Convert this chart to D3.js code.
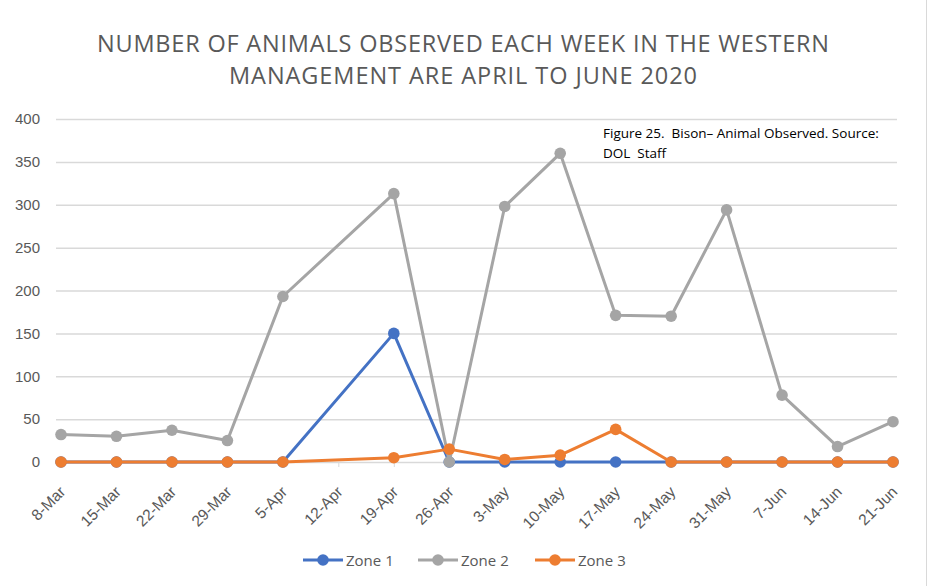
<!DOCTYPE html>
<html>
<head>
<meta charset="utf-8">
<script src="https://cdn.jsdelivr.net/npm/d3@7/dist/d3.min.js"></script>
<style>
  body { margin: 0; background: #fff; }
  svg { display: block; font-family: "Open Sans", "Noto Sans", sans-serif; }
</style>
</head>
<body>
<svg id="chart" width="932" height="586"></svg>
<script>
// week labels (12-Apr has no observation)
const weeks = ["8-Mar", "15-Mar", "22-Mar", "29-Mar", "5-Apr", "12-Apr", "19-Apr", "26-Apr",
  "3-May", "10-May", "17-May", "24-May", "31-May", "7-Jun", "14-Jun", "21-Jun"];
const zone1 = [0, 0, 0, 0, 0, null, 150, 0, 0, 0, 0, 0, 0, 0, 0, 0];
const zone2 = [32, 30, 37, 25, 193, null, 313, 0, 298, 360, 171, 170, 294, 78, 18, 47];
const zone3 = [0, 0, 0, 0, 0, null, 5, 15, 3, 8, 38, 0, 0, 0, 0, 0];
const yTicks = [0, 50, 100, 150, 200, 250, 300, 350, 400];
const seriesNames = ["Zone 1", "Zone 2", "Zone 3"];
const colors = ["#4472C4", "#A5A5A5", "#ED7D31"];
const titleLines = ["NUMBER OF ANIMALS OBSERVED EACH WEEK IN THE WESTERN", "MANAGEMENT ARE APRIL TO JUNE 2020"];
const noteLines = ["Figure 25.  Bison\u2013 Animal Observed. Source:", "DOL  Staff"];

const svg = d3.select("#chart");
const plot = { left: 56, right: 897, top: 119, bottom: 462 };

const x = d3.scalePoint().domain(weeks).range([61, 893]);
const y = d3.scaleLinear().domain([0, 400]).range([plot.bottom, plot.top]);

// right frame edge
svg.append("line")
  .attr("x1", 926.5).attr("x2", 926.5).attr("y1", 0).attr("y2", 586)
  .attr("stroke", "#d9d9d9").attr("stroke-width", 1);

// title
const titleWidths = [732, 468];
svg.append("g")
  .selectAll("text")
  .data(titleLines)
  .enter().append("text")
  .attr("x", 463)
  .attr("y", (d, i) => 52 + i * 32)
  .attr("text-anchor", "middle")
  .attr("fill", "#595959")
  .style("font-size", "23.5px")
  .attr("textLength", (d, i) => titleWidths[i])
  .attr("lengthAdjust", "spacing")
  .text(d => d);

// gridlines
svg.append("g")
  .selectAll("line")
  .data(yTicks)
  .enter().append("line")
  .attr("x1", plot.left).attr("x2", plot.right)
  .attr("y1", d => y(d) + 0.5).attr("y2", d => y(d) + 0.5)
  .attr("stroke", "#d9d9d9").attr("stroke-width", 1.5);

// y axis
const yAxis = svg.append("g")
  .attr("transform", "translate(" + plot.left + ",0)")
  .call(d3.axisLeft(y).tickValues(yTicks).tickSize(0).tickPadding(16));
yAxis.select(".domain").remove();
yAxis.selectAll("text").attr("fill", "#595959").style("font-size", "15px");

// x axis
const xAxis = svg.append("g")
  .attr("transform", "translate(0," + plot.bottom + ")")
  .call(d3.axisBottom(x).tickSize(5).tickSizeOuter(0));
xAxis.select(".domain").remove();
xAxis.selectAll("line").attr("stroke", "#d9d9d9");
xAxis.selectAll("text")
  .attr("fill", "#595959")
  .style("font-size", "15.5px")
  .style("text-anchor", "end")
  .attr("x", 0)
  .attr("y", 0)
  .attr("dx", 0)
  .attr("dy", "0.35em")
  .attr("transform", "translate(1,27) rotate(-45)");

// series
const allSeries = [zone1, zone2, zone3];
const line = d3.line()
  .x(d => x(d.w))
  .y(d => y(d.v));

allSeries.forEach((vals, si) => {
  const pts = weeks.map((w, i) => ({ w: w, v: vals[i] })).filter(d => d.v !== null);
  const g = svg.append("g");
  g.append("path")
    .datum(pts)
    .attr("fill", "none")
    .attr("stroke", colors[si])
    .attr("stroke-width", 3)
    .attr("stroke-linejoin", "round")
    .attr("d", line);
  g.selectAll("circle")
    .data(pts)
    .enter().append("circle")
    .attr("cx", d => x(d.w))
    .attr("cy", d => y(d.v))
    .attr("r", 5.8)
    .attr("fill", colors[si]);
});

// annotation
svg.append("g")
  .selectAll("text")
  .data(noteLines)
  .enter().append("text")
  .attr("x", 603)
  .attr("y", (d, i) => 138 + i * 20)
  .attr("fill", "#000")
  .style("font-size", "13.5px")
  .style("white-space", "pre")
  .text(d => d);

// legend
const legendX = [303, 418, 535];
const legend = svg.append("g");
seriesNames.forEach((name, i) => {
  const lg = legend.append("g").attr("transform", "translate(" + legendX[i] + ",560)");
  lg.append("line").attr("x1", 0).attr("x2", 40).attr("y1", 0).attr("y2", 0)
    .attr("stroke", colors[i]).attr("stroke-width", 3);
  lg.append("circle").attr("cx", 20).attr("cy", 0).attr("r", 5.8).attr("fill", colors[i]);
  lg.append("text").attr("x", 43).attr("y", 5.5)
    .attr("fill", "#595959").style("font-size", "15px").text(name);
});
</script>
</body>
</html>
